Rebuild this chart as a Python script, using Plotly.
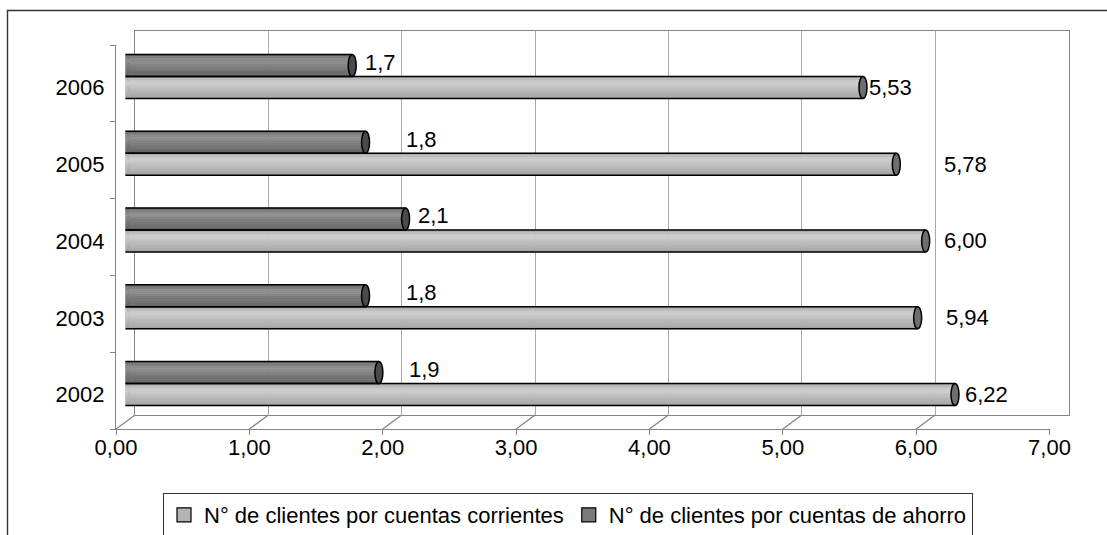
import plotly.graph_objects as go

# ---- data -------------------------------------------------------------
years = ["2002", "2003", "2004", "2005", "2006"]
corrientes = [6.22, 5.94, 6.00, 5.78, 5.53]   # N° de clientes por cuentas corrientes
ahorro = [1.9, 1.8, 2.1, 1.8, 1.7]            # N° de clientes por cuentas de ahorro
x_ticks = [0, 1, 2, 3, 4, 5, 6, 7]

# where each value label starts (x units of the bar scale)
label_x_corrientes = [6.28, 6.14, 6.12, 6.12, 5.56]
label_x_ahorro = [2.11, 2.09, 2.18, 2.09, 1.78]

# ---- geometry (pixels) -------------------------------------------------
W, H = 1107, 535
FX0, FX1 = 116.0, 116.0 + 7 * 133.36     # front face, x extent
FY0, FY1 = 45.0, 429.0                   # front face, top / bottom
DX, DY = 19.0, 14.0                      # depth of the 3D box
BAR_H = 22.0                             # pixel height of one cylinder
CAP_W = 4.0                              # half width of the end ellipses

band = (FY1 - FY0) / len(years)
bw = BAR_H / band                        # bar thickness in category units


def xdom(dx):
    return [(FX0 + dx) / W, (FX1 + dx) / W]


def ydom(dy):
    return [(H - FY1 + dy) / H, (H - FY0 + dy) / H]


FONT = "Liberation Sans, Arial, sans-serif"
GRAY_EDGE = "#858585"

series = [
    dict(name="N° de clientes por cuentas corrientes", vals=corrientes,
         off=-bw, base="#b4b4b4", cap="#6e6e6e",
         shades=[172, 188, 202, 204, 198, 190, 184, 178, 172, 164],
         lab_x=label_x_corrientes, fmt="{:.2f}", yshift=0),
    dict(name="N° de clientes por cuentas de ahorro", vals=ahorro,
         off=0.0, base="#7a7a7a", cap="#4a4a4a",
         shades=[110, 126, 140, 142, 134, 126, 120, 114, 108, 102],
         lab_x=label_x_ahorro, fmt="{:.1f}", yshift=3),
]

fig = go.Figure()
shapes = []
annotations = []
pos = list(range(len(years)))

# legend swatches (they also carry the back-wall axes)
for s in series:
    fig.add_trace(go.Scatter(
        x=[None], y=[None], mode="markers", name=s["name"],
        xaxis="x", yaxis="y",
        marker=dict(symbol="square", size=14, color=s["base"],
                    line=dict(color="black", width=1.2)),
    ))
# an empty trace for the front axes
fig.add_trace(go.Scatter(x=[None], y=[None], xaxis="x2", yaxis="y2",
                         mode="markers", showlegend=False, hoverinfo="skip"))

for s in series:
    n = len(s["shades"])
    # cylinder body: horizontal stripes from top to bottom
    for k, g in enumerate(s["shades"]):
        fig.add_trace(go.Bar(
            x=s["vals"], y=pos, orientation="h",
            xaxis="x3", yaxis="y3",
            offset=s["off"] + bw * (n - 1 - k) / n, width=bw / n,
            marker=dict(color=f"rgb({g},{g},{g})",
                        line=dict(width=0.6, color=f"rgb({g},{g},{g})")),
            showlegend=False, hoverinfo="skip",
        ))
    # top and bottom outline of each cylinder
    ex, ey = [], []
    for i, v in enumerate(s["vals"]):
        for edge in (s["off"], s["off"] + bw):
            ex += [0, v, None]
            ey += [i + edge, i + edge, None]
    fig.add_trace(go.Scatter(
        x=ex, y=ey, mode="lines", xaxis="x3", yaxis="y3",
        line=dict(color="black", width=1.5),
        showlegend=False, hoverinfo="skip",
    ))
    for i, v in enumerate(s["vals"]):
        y0, y1 = i + s["off"], i + s["off"] + bw
        # rounded start of the cylinder
        shapes.append(dict(
            type="circle", xref="x3", yref="y3", layer="below",
            xsizemode="pixel", xanchor=0, x0=-CAP_W, x1=CAP_W,
            y0=y0, y1=y1, fillcolor=s["base"],
            line=dict(color="black", width=1.5),
        ))
        # end cap
        shapes.append(dict(
            type="circle", xref="x3", yref="y3", layer="above",
            xsizemode="pixel", xanchor=v, x0=-CAP_W, x1=CAP_W,
            y0=y0, y1=y1, fillcolor=s["cap"],
            line=dict(color="black", width=1.5),
        ))
        annotations.append(dict(
            x=s["lab_x"][i], y=(y0 + y1) / 2, xref="x3", yref="y3",
            text=s["fmt"].format(v).replace(".", ","), showarrow=False,
            xanchor="left", yanchor="middle", yshift=s["yshift"],
            font=dict(family=FONT, size=22, color="black"),
        ))

# receding edges of the floor and of the left wall
for t in x_ticks:
    shapes.append(dict(
        type="line", xref="x2", yref="y2", layer="above",
        xsizemode="pixel", xanchor=t, x0=0, x1=DX,
        ysizemode="pixel", yanchor=-0.5, y0=0, y1=DY,
        line=dict(color=GRAY_EDGE, width=1.3),
    ))
shapes.append(dict(
    type="line", xref="x2", yref="y2", layer="above",
    xsizemode="pixel", xanchor=0, x0=0, x1=DX,
    ysizemode="pixel", yanchor=len(years) - 0.5, y0=0, y1=DY,
    line=dict(color=GRAY_EDGE, width=1.3),
))
# chart frame
shapes.append(dict(
    type="rect", xref="paper", yref="paper", layer="above",
    x0=7.5 / W, x1=1.02, y0=-0.02, y1=1 - 10.5 / H,
    line=dict(color="#333333", width=1.4), fillcolor="rgba(0,0,0,0)",
))

fig.update_layout(
    width=W, height=H,
    margin=dict(l=0, r=0, t=0, b=0, autoexpand=False),
    paper_bgcolor="white", plot_bgcolor="rgba(0,0,0,0)",
    barmode="overlay", separators=",.",
    font=dict(family=FONT, size=22, color="black"),
    # back wall with the vertical gridlines
    xaxis=dict(domain=xdom(DX), anchor="y", range=[0, 7], tickvals=x_ticks,
               showgrid=True, gridcolor="#aaaaaa", gridwidth=1.3,
               showticklabels=False, ticks="", zeroline=False,
               showline=True, mirror=True, linecolor=GRAY_EDGE, linewidth=1.3),
    yaxis=dict(domain=ydom(DY), anchor="x", range=[0, 1],
               showgrid=False, showticklabels=False, ticks="", zeroline=False,
               showline=True, mirror=True, linecolor=GRAY_EDGE, linewidth=1.3),
    # front axes with the labels
    xaxis2=dict(domain=xdom(0), anchor="y2", range=[0, 7], tickvals=x_ticks,
                tickformat=".2f", ticks="outside", ticklen=5, tickcolor=GRAY_EDGE,
                tickwidth=1.3, showgrid=False, zeroline=False,
                showline=True, linecolor=GRAY_EDGE, linewidth=1.3,
                ticklabelstandoff=-7),
    yaxis2=dict(domain=ydom(0), anchor="x2", range=[-0.5, len(years) - 0.5],
                tickvals=pos, ticktext=years, ticks="",
                minor=dict(tickvals=[p - 0.5 for p in pos] + [len(years) - 0.5],
                           ticks="outside", ticklen=5, tickcolor=GRAY_EDGE,
                           tickwidth=1.3, showgrid=False),
                showgrid=False, zeroline=False,
                showline=True, linecolor=GRAY_EDGE, linewidth=1.3,
                ticklabelstandoff=6, ticklabelshift=4),
    # bars sit half way into the box
    xaxis3=dict(domain=xdom(DX / 2), anchor="y3", range=[0, 7], visible=False),
    yaxis3=dict(domain=ydom(DY / 2), anchor="x3",
                range=[-0.5, len(years) - 0.5], visible=False),
    shapes=shapes,
    annotations=annotations,
    showlegend=True,
    legend=dict(orientation="h", x=163 / W, y=1 - 493 / H,
                xanchor="left", yanchor="top",
                bordercolor="#333333", borderwidth=1, bgcolor="white",
                font=dict(family=FONT, size=22, color="black"),
                itemwidth=30, traceorder="normal"),
)

fig.write_html("out.html")
